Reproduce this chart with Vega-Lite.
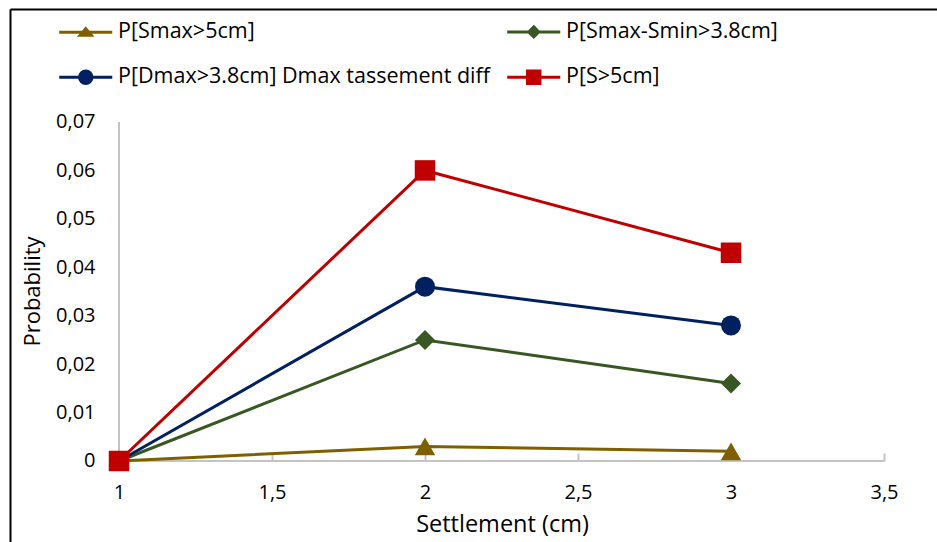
{
  "$schema": "https://vega.github.io/schema/vega-lite/v6.json",
  "width": 927,
  "height": 533,
  "autosize": "none",
  "padding": {"left": 10, "top": 9, "right": 0, "bottom": 0},
  "background": "white",
  "config": {
    "view": {"stroke": null},
    "font": "Open Sans",
    "axis": {"grid": false, "labelFont": "Open Sans", "titleFont": "Open Sans", "labelColor": "#000000", "titleColor": "#000000", "titleFontWeight": "normal"}
  },
  "datasets": {
    "prob": [
      {"series": "P[Smax>5cm]", "s": 1, "p": 0},
      {"series": "P[Smax>5cm]", "s": 2, "p": 0.003},
      {"series": "P[Smax>5cm]", "s": 3, "p": 0.002},
      {"series": "P[Smax-Smin>3.8cm]", "s": 1, "p": 0},
      {"series": "P[Smax-Smin>3.8cm]", "s": 2, "p": 0.025},
      {"series": "P[Smax-Smin>3.8cm]", "s": 3, "p": 0.016},
      {"series": "P[Dmax>3.8cm] Dmax tassement diff", "s": 1, "p": 0},
      {"series": "P[Dmax>3.8cm] Dmax tassement diff", "s": 2, "p": 0.036},
      {"series": "P[Dmax>3.8cm] Dmax tassement diff", "s": 3, "p": 0.028},
      {"series": "P[S>5cm]", "s": 1, "p": 0},
      {"series": "P[S>5cm]", "s": 2, "p": 0.06},
      {"series": "P[S>5cm]", "s": 3, "p": 0.043}
    ],
    "axislines": [
      {"s": 1, "s2": 3.5, "p": 0, "p2": 0},
      {"s": 1, "s2": 1, "p": 0, "p2": 0.07}
    ]
  },
  "resolve": {"axis": {"x": "independent", "y": "independent"}},
  "layer": [
    {
      "data": {"name": "axislines"},
      "mark": {"type": "rule", "color": "#C4C4C4", "strokeWidth": 2},
      "encoding": {
        "x": {"field": "s", "type": "quantitative",
          "scale": {"domain": [0.64379, 3.6732], "nice": false, "zero": false},
          "axis": {"orient": "top", "domainColor": "#000000", "domainWidth": 2, "ticks": false, "labels": false, "title": null}},
        "x2": {"field": "s2"},
        "y": {"field": "p", "type": "quantitative",
          "scale": {"domain": [-0.016726, 0.093333], "nice": false, "zero": false},
          "axis": {"orient": "left", "domainColor": "#000000", "domainWidth": 2, "ticks": false, "labels": false, "title": null}},
        "y2": {"field": "p2"}
      }
    },
    {
      "data": {"name": "prob"},
      "mark": {"type": "line", "strokeWidth": 3},
      "encoding": {
        "x": {"field": "s", "type": "quantitative",
          "scale": {"domain": [0.64379, 3.6732], "nice": false, "zero": false},
          "axis": {"orient": "bottom", "offset": -81, "domain": false,
            "values": [1, 1.5, 2, 2.5, 3, 3.5],
            "labelExpr": "replace(toString(datum.value), '.', ',')",
            "ticks": true, "tickSize": -8, "tickColor": "#C4C4C4", "tickWidth": 2,
            "labelPadding": 39.5, "labelBaseline": "middle", "labelFontSize": 20,
            "title": "Settlement (cm)", "titleFontSize": 23.5,
            "titleX": 492, "titleY": 63, "titleBaseline": "middle", "titleAlign": "center"}},
        "y": {"field": "p", "type": "quantitative",
          "scale": {"domain": [-0.016726, 0.093333], "nice": false, "zero": false},
          "axis": {"orient": "left", "offset": -109, "domain": false, "ticks": false,
            "values": [0, 0.01, 0.02, 0.03, 0.04, 0.05, 0.06, 0.07],
            "labelExpr": "replace(toString(datum.value), '.', ',')",
            "labelPadding": 24, "labelFontSize": 20,
            "title": "Probability", "titleFontSize": 22, "titleAngle": -90,
            "titleX": -86.5, "titleY": 282, "titleBaseline": "middle", "titleAlign": "center"}},
        "color": {"field": "series", "type": "nominal",
          "scale": {
            "domain": ["P[Smax>5cm]", "P[Dmax>3.8cm] Dmax tassement diff", "P[Smax-Smin>3.8cm]", "P[S>5cm]"],
            "range": ["#7F6000", "#002060", "#385723", "#C00000"]},
          "legend": {
            "orient": "none", "legendX": 65, "legendY": 12, "columns": 2,
            "title": null, "padding": 0, "offset": 0,
            "symbolSize": 196, "symbolStrokeWidth": 3,
            "labelFont": "Open Sans", "labelFontSize": 21.5, "labelColor": "#000000",
            "labelLimit": 800, "labelOffset": 21.5,
            "columnPadding": 11, "rowPadding": 21.5,
            "encode": {
              "symbols": {
                "update": {
                  "shape": {"signal": "datum.value === 'P[Smax>5cm]' ? 'M-3.79,0H3.79M0,-0.5L0.79,0.43L-0.79,0.43Z' : datum.value === 'P[Smax-Smin>3.8cm]' ? 'M-3.79,0H3.79M0,-0.71L0.71,0L0,0.71L-0.71,0Z' : datum.value === 'P[S>5cm]' ? 'M-3.79,0H3.79M-0.89,-0.89H0.89V0.89H-0.89Z' : 'M-3.79,0H3.79M0.89,0A0.89,0.89 0 1,1 -0.89,0A0.89,0.89 0 1,1 0.89,0Z'"},
                  "fill": {"scale": "color", "field": "value"},
                  "stroke": {"scale": "color", "field": "value"},
                  "strokeWidth": {"value": 3},
                  "opacity": {"value": 1}
                }
              }
            }
          }
        }
      }
    },
    {
      "data": {"name": "prob"},
      "transform": [{"filter": "datum.series === 'P[Smax>5cm]'"}],
      "mark": {"type": "point", "shape": "triangle-up", "filled": true, "size": 420, "opacity": 1},
      "encoding": {
        "x": {"field": "s", "type": "quantitative", "scale": {"domain": [0.64379, 3.6732], "nice": false, "zero": false}, "axis": null},
        "y": {"field": "p", "type": "quantitative", "scale": {"domain": [-0.016726, 0.093333], "nice": false, "zero": false}, "axis": null},
        "color": {"field": "series", "type": "nominal", "legend": null}
      }
    },
    {
      "data": {"name": "prob"},
      "transform": [{"filter": "datum.series === 'P[Smax-Smin>3.8cm]'"}],
      "mark": {"type": "point", "shape": "diamond", "filled": true, "size": 400, "opacity": 1},
      "encoding": {
        "x": {"field": "s", "type": "quantitative", "scale": {"domain": [0.64379, 3.6732], "nice": false, "zero": false}, "axis": null},
        "y": {"field": "p", "type": "quantitative", "scale": {"domain": [-0.016726, 0.093333], "nice": false, "zero": false}, "axis": null},
        "color": {"field": "series", "type": "nominal", "legend": null}
      }
    },
    {
      "data": {"name": "prob"},
      "transform": [{"filter": "datum.series === 'P[Dmax>3.8cm] Dmax tassement diff'"}],
      "mark": {"type": "point", "shape": "circle", "filled": true, "size": 400, "opacity": 1},
      "encoding": {
        "x": {"field": "s", "type": "quantitative", "scale": {"domain": [0.64379, 3.6732], "nice": false, "zero": false}, "axis": null},
        "y": {"field": "p", "type": "quantitative", "scale": {"domain": [-0.016726, 0.093333], "nice": false, "zero": false}, "axis": null},
        "color": {"field": "series", "type": "nominal", "legend": null}
      }
    },
    {
      "data": {"name": "prob"},
      "transform": [{"filter": "datum.series === 'P[S>5cm]'"}],
      "mark": {"type": "point", "shape": "square", "filled": true, "size": 420, "opacity": 1},
      "encoding": {
        "x": {"field": "s", "type": "quantitative", "scale": {"domain": [0.64379, 3.6732], "nice": false, "zero": false}, "axis": null},
        "y": {"field": "p", "type": "quantitative", "scale": {"domain": [-0.016726, 0.093333], "nice": false, "zero": false}, "axis": null},
        "color": {"field": "series", "type": "nominal", "legend": null}
      }
    }
  ]
}
